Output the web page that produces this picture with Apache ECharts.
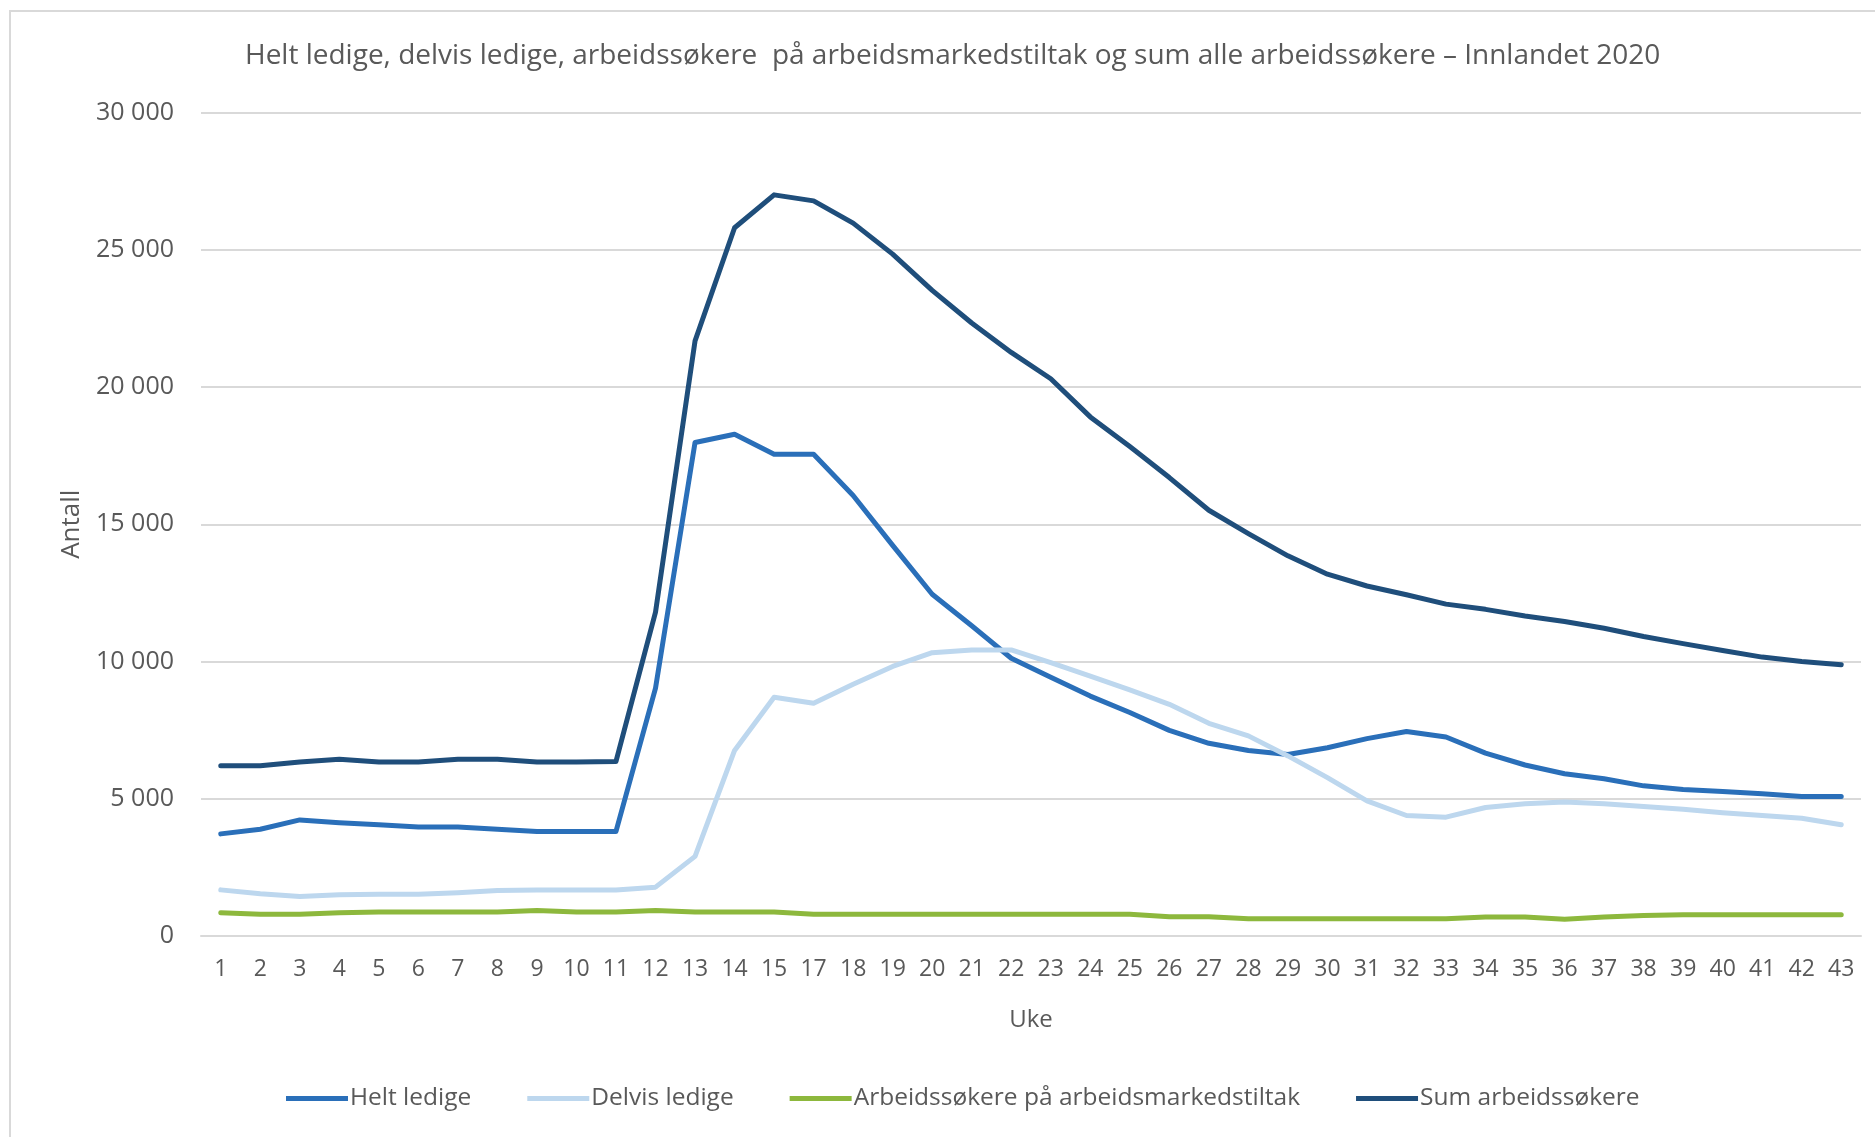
<!DOCTYPE html>
<html>
<head>
<meta charset="utf-8">
<script src="https://cdn.jsdelivr.net/npm/echarts@6/dist/echarts.min.js"></script>
<style>
html,body{margin:0;padding:0;background:#fff;}
#chart{width:1875px;height:1137px;}
</style>
</head>
<body>
<div id="chart"></div>
<script>
const titleText = 'Helt ledige, delvis ledige, arbeidssøkere  på arbeidsmarkedstiltak og sum alle arbeidssøkere – Innlandet 2020';
const weeks = ['1','2','3','4','5','6','7','8','9','10','11','12','13','14','15','17','18','19','20','21','22','23','24','25','26','27','28','29','30','31','32','33','34','35','36','37','38','39','40','41','42','43'];
const yTicks = [0, 5000, 10000, 15000, 20000, 25000, 30000];
const seriesNames = ['Helt ledige', 'Delvis ledige', 'Arbeidssøkere på arbeidsmarkedstiltak', 'Sum arbeidssøkere'];
const heltLedige = [3720,3890,4230,4130,4050,3970,3970,3890,3810,3810,3810,9030,17980,18280,17550,17550,16050,14230,12450,11300,10120,9430,8740,8140,7490,7020,6760,6610,6860,7190,7450,7250,6660,6230,5910,5730,5470,5340,5260,5180,5080,5080];
const delvisLedige = [1680,1540,1440,1500,1520,1520,1580,1660,1680,1680,1680,1780,2900,6760,8700,8480,9170,9820,10320,10420,10420,9960,9470,8970,8440,7750,7290,6560,5770,4920,4390,4330,4680,4820,4880,4820,4720,4620,4490,4390,4290,4050];
const tiltak = [850,790,790,850,870,870,870,870,930,870,870,930,870,870,870,790,790,790,790,790,790,790,790,790,700,700,630,630,630,630,630,630,690,690,610,690,750,770,770,770,770,770];
const sumArbeidssokere = [6200,6200,6340,6440,6340,6340,6440,6440,6340,6340,6360,11800,21680,25800,27000,26780,25970,24840,23520,22330,21260,20300,18910,17830,16700,15510,14660,13850,13180,12750,12430,12090,11900,11660,11460,11210,10910,10650,10400,10160,10000,9880];
const colors = ['#2a6fb9', '#bdd7ee', '#8db83d', '#1f4e7b'];

const FONT = 'Open Sans';
const TXT = '#595959';
const chart = echarts.init(document.getElementById('chart'), null, {renderer: 'canvas'});
const seriesData = [heltLedige, delvisLedige, tiltak, sumArbeidssokere];

chart.setOption({
  backgroundColor: '#fff',
  animation: false,
  color: colors,
  title: {
    text: titleText,
    left: 240,
    top: 37,
    textStyle: {fontFamily: FONT, fontSize: 28, fontWeight: 'normal', color: TXT}
  },
  graphic: [{
    type: 'rect',
    shape: {x: 10, y: 11, width: 1900, height: 1200},
    style: {fill: 'none', stroke: '#d9d9d9', lineWidth: 2},
    silent: true
  }],
  legend: {
    data: seriesNames,
    bottom: 21,
    left: 281,
    icon: 'rect',
    itemWidth: 62,
    itemHeight: 5,
    itemGap: 56,
    textStyle: {fontFamily: FONT, fontSize: 24.5, color: TXT, padding: [0,0,0,-3]}
  },
  grid: {left: 201, right: 14, top: 112.5, bottom: 201, outerBoundsMode: 'none'},
  xAxis: {
    type: 'category',
    data: weeks,
    boundaryGap: true,
    name: 'Uke',
    nameLocation: 'middle',
    nameGap: 72,
    nameTextStyle: {fontFamily: FONT, fontSize: 24, color: TXT},
    axisLine: {show: true, lineStyle: {color: '#d9d9d9', width: 2}},
    axisTick: {show: false},
    axisLabel: {fontFamily: FONT, fontSize: 23, color: TXT, margin: 22, interval: 0}
  },
  yAxis: {
    type: 'value',
    min: 0,
    max: 30000,
    interval: 5000,
    name: 'Antall',
    nameLocation: 'middle',
    nameGap: 116,
    nameTextStyle: {fontFamily: FONT, fontSize: 26, color: TXT},
    axisLine: {show: false},
    axisTick: {show: false},
    splitLine: {lineStyle: {color: '#d9d9d9', width: 2}},
    axisLabel: {
      fontFamily: FONT, fontSize: 25, color: TXT, margin: 27,
      formatter: function (v) { return yTicks.indexOf(v) >= 0 ? String(v).replace(/\B(?=(\d{3})+(?!\d))/g, ' ') : ''; }
    }
  },
  series: seriesNames.map(function (n, i) {
    return {
      name: n,
      type: 'line',
      data: seriesData[i],
      showSymbol: false,
      symbol: 'none',
      smooth: false,
      lineStyle: {width: 5, color: colors[i], cap: 'round', join: 'round'},
      itemStyle: {color: colors[i]}
    };
  })
});
</script>
</body>
</html>
